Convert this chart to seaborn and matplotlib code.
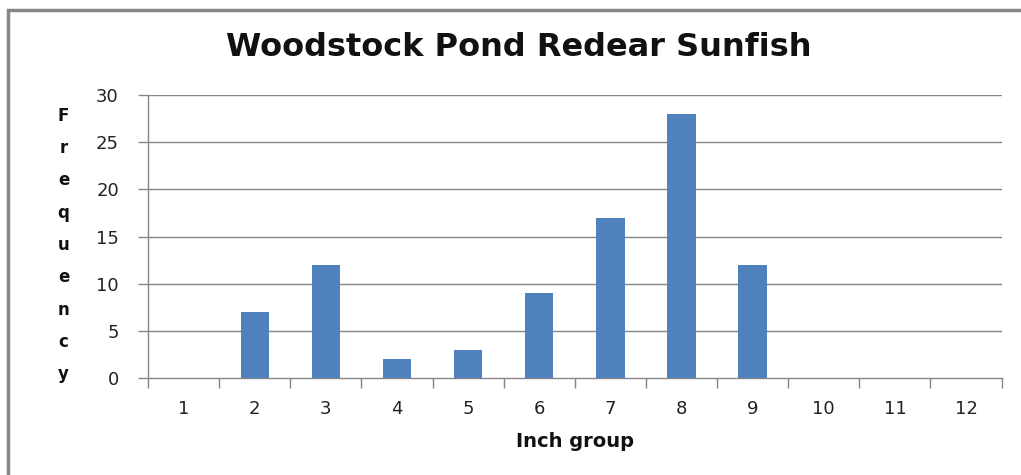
import matplotlib
matplotlib.use("Agg")
import matplotlib.pyplot as plt
import seaborn as sns
import pandas as pd
import numpy as np
from matplotlib.patches import Rectangle
from matplotlib.ticker import FixedLocator

categories = ["1", "2", "3", "4", "5", "6", "7", "8", "9", "10", "11", "12"]
frequency = [0, 7, 12, 2, 3, 9, 17, 28, 12, 0, 0, 0]
y_ticks = [0, 5, 10, 15, 20, 25, 30]

df = pd.DataFrame({"Inch group": categories, "Frequency": frequency})

sns.set_theme(style="white")
plt.rcParams["font.family"] = ["DejaVu Sans"]

fig = plt.figure(figsize=(10.21, 4.75), dpi=100)
ax = fig.add_axes([0.145, 0.204, 0.836, 0.596])

sns.barplot(data=df, x="Inch group", y="Frequency", order=categories,
            color="#4F81BD", saturation=1, width=0.4, linewidth=0, ax=ax, zorder=3)

grid_c = "#868686"
ax.set_ylim(0, 30)
ax.set_xlim(-0.5, len(categories) - 0.5)
ax.set_yticks(y_ticks)
for v in y_ticks[1:]:
    ax.axhline(v, color=grid_c, lw=1.0, zorder=1)

for s in ["top", "right"]:
    ax.spines[s].set_visible(False)
for s in ["left", "bottom"]:
    ax.spines[s].set_color(grid_c)
    ax.spines[s].set_linewidth(1.0)

ax.xaxis.set_minor_locator(FixedLocator(np.arange(-0.5, len(categories), 1.0)))
ax.tick_params(axis="x", which="major", length=0, pad=16, labelsize=13, labelcolor="#222222")
ax.tick_params(axis="x", which="minor", length=7, width=1, color=grid_c, bottom=True)
ax.tick_params(axis="y", which="major", length=7, width=1, color=grid_c, left=True,
               pad=14, labelsize=13, labelcolor="#222222")

ax.set_xlabel("Inch group", fontsize=14, fontweight="bold", labelpad=10, color="#111111")
ax.set_ylabel("\n".join("Frequency"), rotation=0, fontsize=12, fontweight="bold",
              linespacing=2.02, va="center", ha="center", color="#111111")
ax.yaxis.set_label_coords(-0.099, 0.47)

fig.text(0.508, 0.9, "Woodstock Pond Redear Sunfish", ha="center", va="center",
         fontsize=23, fontweight="bold", color="#111111")

fig.add_artist(Rectangle((0.0078, -0.5), 1.5, 0.5 + 0.98, transform=fig.transFigure,
                         fill=False, edgecolor="#878787", lw=2.5))

fig.savefig("out.png", dpi=100)
